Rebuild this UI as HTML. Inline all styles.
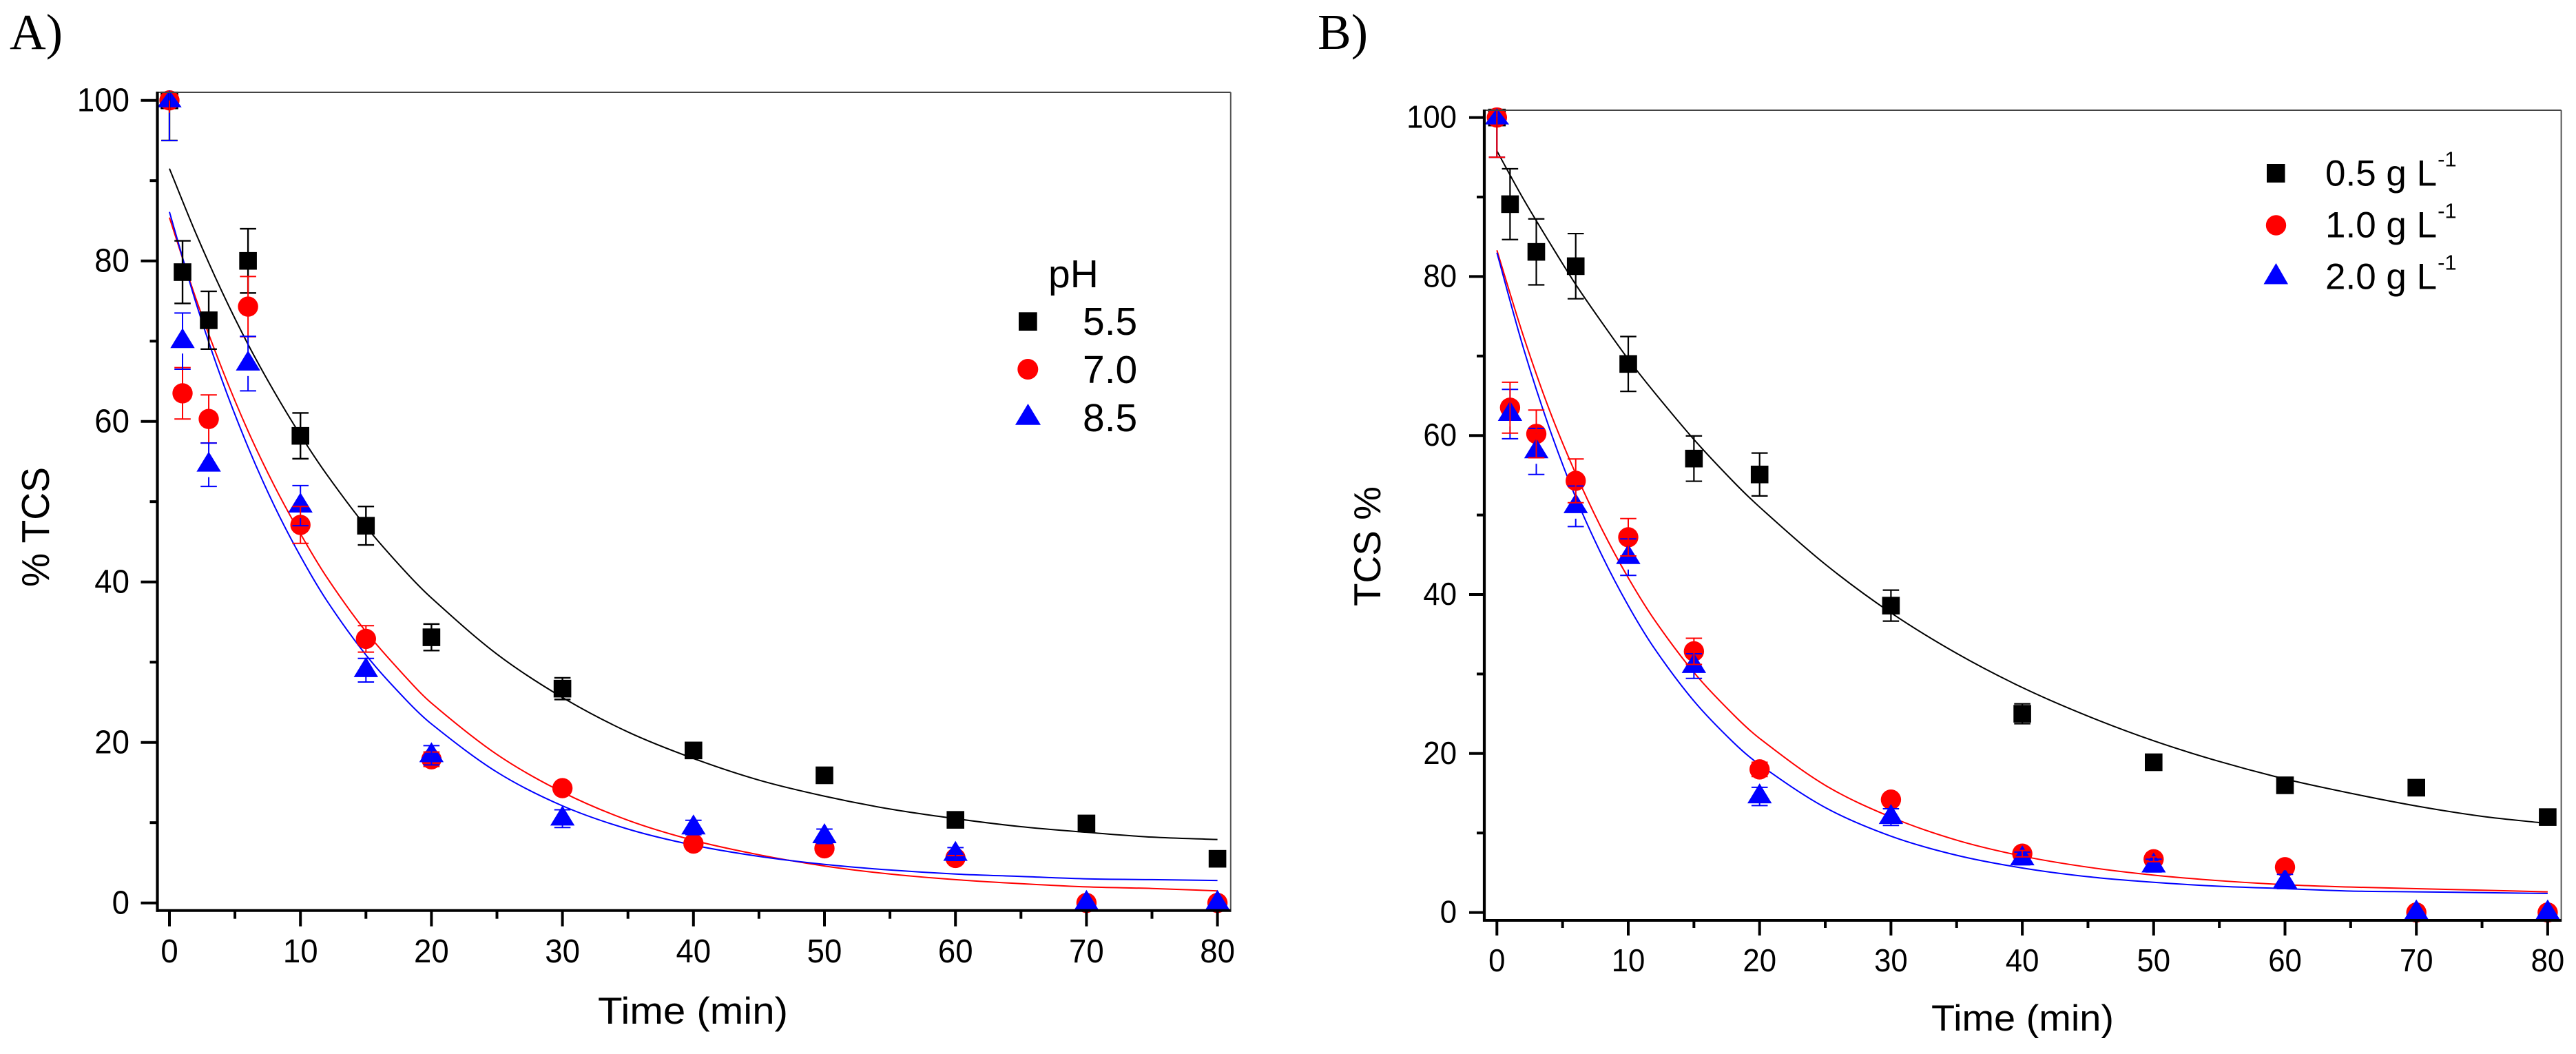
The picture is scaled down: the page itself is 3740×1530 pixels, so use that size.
<!DOCTYPE html>
<html lang="en">
<head>
<meta charset="utf-8">
<title>TCS degradation kinetics</title>
<style>
  html, body { margin: 0; padding: 0; background: #ffffff; }
  body { width: 3740px; height: 1530px; overflow: hidden; }
  svg { display: block; }
  text { font-family: "Liberation Sans", Arial, sans-serif; fill: #000; }
  .serif { font-family: "Liberation Serif", "Times New Roman", serif; }
</style>
</head>
<body>
<svg id="figure" xmlns="http://www.w3.org/2000/svg" width="3740" height="1530" viewBox="0 0 3740 1530">
  <rect x="0" y="0" width="3740" height="1530" fill="#ffffff"/>

  <text class="serif" x="14" y="71" font-size="73">A)</text>
  <text class="serif" x="1913" y="71" font-size="73">B)</text>

  <g id="panel-a"></g>
  <g id="panel-b"></g>

  <text x="868" y="1486" font-size="55" textLength="276" lengthAdjust="spacingAndGlyphs">Time (min)</text>
  <text transform="translate(71,852) rotate(-90)" font-size="57" textLength="174" lengthAdjust="spacingAndGlyphs">% TCS</text>
  <text x="2804" y="1496" font-size="53" textLength="265" lengthAdjust="spacingAndGlyphs">Time (min)</text>
  <text transform="translate(2004,880) rotate(-90)" font-size="55" textLength="174" lengthAdjust="spacingAndGlyphs">TCS %</text>

  <g>
    <text x="1522" y="417" font-size="57">pH</text>
    <rect x="1479" y="453.3" width="26.7" height="26.7" fill="#000"/>
    <text x="1572" y="486" font-size="57">5.5</text>
    <circle cx="1492.3" cy="536" r="15" fill="#ff0000"/>
    <text x="1572" y="556" font-size="57">7.0</text>
    <polygon points="1492.5,586 1474,616.7 1511,616.7" fill="#0000ff"/>
    <text x="1572" y="626" font-size="57">8.5</text>
  </g>

  <g>
    <rect x="3291" y="238" width="26.5" height="27" fill="#000"/>
    <text x="3376" y="269.5" font-size="53">0.5 g L<tspan font-size="31" dy="-28" dx="1">-1</tspan></text>
    <circle cx="3304.5" cy="327" r="14.7" fill="#ff0000"/>
    <text x="3376" y="344.5" font-size="53">1.0 g L<tspan font-size="31" dy="-28" dx="1">-1</tspan></text>
    <polygon points="3304.5,382 3286.5,412.5 3322,412.5" fill="#0000ff"/>
    <text x="3376" y="419.5" font-size="53">2.0 g L<tspan font-size="31" dy="-28" dx="1">-1</tspan></text>
  </g>
</svg>

<script>
// ---- shared categories and tick labels ----
const times = [0, 1, 3, 6, 10, 15, 20, 30, 40, 50, 60, 70, 80];
const fitTimes = [0, 2, 4, 6, 8, 10, 12, 15, 18, 20, 25, 30, 35, 40, 45, 50, 55, 60, 65, 70, 75, 80];
const xMajorTicks = [0, 10, 20, 30, 40, 50, 60, 70, 80];
const xMinorTicks = [5, 15, 25, 35, 45, 55, 65, 75];
const yMajorTicks = [0, 20, 40, 60, 80, 100];
const yMinorTicks = [10, 30, 50, 70, 90];

// ---- panel A: pH series ----
const aPh55 = [100, 78.6, 72.6, 80, 58.2, 47, 33.1, 26.7, 19, 15.9, 10.35, 9.9, 5.5];
const aPh55Err = [5, 3.9, 3.6, 4, 2.85, 2.4, 1.65, 1.35, 0.6, 0.4, 0.4, 0.3, 0.3];
const aPh70 = [100, 63.5, 60.3, 74.3, 47.1, 32.9, 17.9, 14.3, 7.4, 6.8, 5.6, 0, 0];
const aPh70Err = [5, 3.2, 3, 3.75, 2.3, 1.65, 0.9, 0.5, 0.4, 0.3, 0.3, 0, 0];
const aPh85 = [100, 70, 54.6, 67.2, 49.5, 29, 18.4, 10.5, 9.4, 8.3, 6.1, 0, 0];
const aPh85Err = [5, 3.5, 2.7, 3.4, 2.5, 1.47, 1.2, 1.1, 0.9, 0.9, 0.8, 0, 0];
const aFit55 = [91.5, 83.5, 76.2, 69.6, 63.7, 58.3, 53.4, 46.9, 41.3, 38.0, 31.0, 25.6, 21.3, 18.0, 15.3, 13.3, 11.7, 10.5, 9.5, 8.8, 8.2, 7.9];
const aFit70 = [85.4, 75.4, 66.6, 58.8, 52.0, 46.0, 40.6, 33.8, 28.2, 24.9, 18.5, 13.8, 10.3, 7.8, 6.0, 4.6, 3.6, 2.9, 2.4, 2.0, 1.8, 1.5];
const aFit85 = [86.1, 74.9, 65.2, 56.8, 49.5, 43.2, 37.7, 30.9, 25.4, 22.3, 16.3, 12.1, 9.2, 7.2, 5.8, 4.8, 4.1, 3.6, 3.3, 3.0, 2.9, 2.8];

// ---- panel B: catalyst dose series ----
const bDose05 = [100, 89.1, 83.1, 81.3, 69, 57.1, 55.1, 38.6, 25, 18.9, 16, 15.7, 12];
const bDose05Err = [5, 4.45, 4.15, 4.1, 3.45, 2.85, 2.7, 1.95, 1.25, 0.4, 0.4, 0.3, 0.3];
const bDose10 = [100, 63.5, 60.2, 54.3, 47.2, 32.85, 18, 14.2, 7.4, 6.7, 5.7, 0, 0];
const bDose10Err = [5, 3.2, 3, 2.75, 2.35, 1.65, 0.9, 0.5, 0.4, 0.3, 0.3, 0, 0];
const bDose20 = [100, 62.7, 58, 51.1, 44.7, 31, 14.6, 12, 6.8, 5.9, 3.9, 0, 0];
const bDose20Err = [5, 3.1, 2.9, 2.55, 2.3, 1.55, 1.15, 1.05, 0.8, 0.8, 0.9, 0, 0];
const bFit05 = [95.8, 89.8, 84.3, 79.0, 74.2, 69.6, 65.4, 59.5, 54.2, 51.0, 43.8, 37.7, 32.6, 28.3, 24.7, 21.6, 19.0, 16.8, 15.0, 13.4, 12.1, 11.2];
const bFit10 = [83.3, 72.6, 63.2, 55.2, 48.2, 42.1, 36.8, 30.2, 24.9, 21.9, 16.0, 12.0, 9.1, 7.1, 5.7, 4.7, 4.0, 3.5, 3.2, 3.0, 2.8, 2.6];
const bFit20 = [83.0, 71.1, 60.9, 52.2, 44.9, 38.6, 33.2, 26.6, 21.4, 18.6, 13.2, 9.6, 7.2, 5.6, 4.5, 3.8, 3.3, 3.0, 2.7, 2.6, 2.5, 2.4];

const SVGNS = 'http://www.w3.org/2000/svg';

function make(parent, tag, attrs) {
  const el = document.createElementNS(SVGNS, tag);
  for (const k in attrs) el.setAttribute(k, attrs[k]);
  parent.appendChild(el);
  return el;
}

// Cubic Hermite spline through the read-off samples, with slopes that respect uneven spacing.
function smoothPath(px, py) {
  const n = px.length;
  const slope = px.map(function (_, i) {
    const a = Math.max(i - 1, 0), b = Math.min(i + 1, n - 1);
    return (py[b] - py[a]) / (px[b] - px[a]);
  });
  let d = 'M' + px[0].toFixed(2) + ' ' + py[0].toFixed(2);
  for (let i = 0; i < n - 1; i++) {
    const h = (px[i + 1] - px[i]) / 3;
    d += 'C' + (px[i] + h).toFixed(2) + ' ' + (py[i] + slope[i] * h).toFixed(2) + ' ' +
         (px[i + 1] - h).toFixed(2) + ' ' + (py[i + 1] - slope[i + 1] * h).toFixed(2) + ' ' +
         px[i + 1].toFixed(2) + ' ' + py[i + 1].toFixed(2);
  }
  return d;
}

function drawPanel(root, cfg) {
  const xS = function (t) { return cfg.x0 + cfg.xPerMin * t; };
  const yS = function (v) { return cfg.y0 - cfg.yPerUnit * v; };

  // fitted curves
  cfg.series.forEach(function (s) {
    const curve = make(root, 'path', {
      d: smoothPath(fitTimes.map(xS), s.fit.map(yS)),
      fill: 'none', stroke: s.color, 'stroke-width': 2
    });
    
    
  });

  // symbols
  cfg.series.forEach(function (s) {
    times.forEach(function (t, i) {
      const x = xS(t), y = yS(s.values[i]);
      let mark;
      if (s.shape === 'square') {
        mark = make(root, 'rect', { x: x - 12.8, y: y - 12.8, width: 25.6, height: 25.6, fill: s.color });
      } else if (s.shape === 'circle') {
        mark = make(root, 'circle', { cx: x, cy: y, r: 14.7, fill: s.color });
      } else {
        const apex = Math.max(y - 19, cfg.top - 3);
        mark = make(root, 'polygon', {
          points: x + ',' + apex + ' ' + (x - 17.7) + ',' + (y + 10) + ' ' + (x + 17.7) + ',' + (y + 10),
          fill: s.color
        });
      }
      
      
    });
  });

  // error bars (above all symbols)
  cfg.barOrder.forEach(function (idx) {
    const s = cfg.series[idx];
    times.forEach(function (t, i) {
      const e = s.errors[i];
      if (e <= 0) return;
      const x = xS(t);
      const yc = yS(s.values[i]);
      const top = Math.max(yS(s.values[i] + e), cfg.top);
      const bot = yS(s.values[i] - e);
      const g = make(root, 'g', { stroke: s.color, 'stroke-width': s.barWidth, fill: 'none' });
      
      
      const gapBelow = (s.shape === 'triangle' && bot - yc > 18) ? yc + 18 : yc;
      make(g, 'line', { x1: x, x2: x, y1: top, y2: yc });
      make(g, 'line', { x1: x, x2: x, y1: gapBelow, y2: bot });
      if (top > cfg.top) make(g, 'line', { x1: x - 11.8, x2: x + 11.8, y1: top, y2: top });
      make(g, 'line', { x1: x - 11.8, x2: x + 11.8, y1: bot, y2: bot });
    });
  });

  // frame: thin top/right, thick left/bottom
  const frameT = make(root, 'line', { x1: cfg.left, x2: cfg.right, y1: cfg.top, y2: cfg.top, stroke: '#444', 'stroke-width': 2 });
  
  
  const frameR = make(root, 'line', { x1: cfg.right, x2: cfg.right, y1: cfg.top, y2: cfg.bottom + 2, stroke: '#555', 'stroke-width': 2 });
  
  
  const axisY = make(root, 'line', { x1: cfg.left, x2: cfg.left, y1: cfg.top - 1, y2: cfg.bottom + 2, stroke: '#000', 'stroke-width': 4.2 });
  
  
  const axisX = make(root, 'line', { x1: cfg.left - 2, x2: cfg.right, y1: cfg.bottom, y2: cfg.bottom, stroke: '#000', 'stroke-width': 4 });
  
  

  // y ticks
  yMajorTicks.forEach(function (v) {
    const tick = make(root, 'line', { x1: cfg.left - cfg.yMajorLen, x2: cfg.left, y1: yS(v), y2: yS(v), stroke: '#000', 'stroke-width': 4 });
    
    
    const label = make(root, 'text', {
      transform: 'translate(' + cfg.yLabelX + ',' + (yS(v) + cfg.yLabelDy) + ') scale(0.95,1)',
      'text-anchor': 'end', 'font-size': cfg.tickFont
    });
    label.textContent = String(v);
    
    
  });
  yMinorTicks.forEach(function (v) {
    const tick = make(root, 'line', { x1: cfg.left - cfg.yMinorLen, x2: cfg.left, y1: yS(v), y2: yS(v), stroke: '#000', 'stroke-width': 4 });
    
    
  });

  // x ticks
  xMajorTicks.forEach(function (t) {
    const tick = make(root, 'line', { x1: xS(t), x2: xS(t), y1: cfg.bottom, y2: cfg.bottom + cfg.xMajorLen, stroke: '#000', 'stroke-width': 4 });
    
    
    const label = make(root, 'text', {
      transform: 'translate(' + xS(t) + ',' + cfg.xLabelY + ') scale(0.95,1)',
      'text-anchor': 'middle', 'font-size': cfg.tickFont
    });
    label.textContent = String(t);
    
    
  });
  xMinorTicks.forEach(function (t) {
    const tick = make(root, 'line', { x1: xS(t), x2: xS(t), y1: cfg.bottom, y2: cfg.bottom + cfg.xMinorLen, stroke: '#000', 'stroke-width': 4 });
    
    
  });
}

drawPanel(document.getElementById('panel-a'), {
  id: 'panel-a',
  x0: 246, xPerMin: 19.02, y0: 1310.7, yPerUnit: 11.65,
  left: 228.5, right: 1786.8, top: 134, bottom: 1321.7,
  yMajorLen: 24, yMinorLen: 11, xMajorLen: 23, xMinorLen: 12,
  yLabelX: 188, yLabelDy: 16, xLabelY: 1397, tickFont: 48,
  barOrder: [0, 1, 2],
  series: [
    { key: 'ph-5-5', color: '#000000', shape: 'square', barWidth: 2.4, values: aPh55, errors: aPh55Err, fit: aFit55 },
    { key: 'ph-7-0', color: '#ff0000', shape: 'circle', barWidth: 2, values: aPh70, errors: aPh70Err, fit: aFit70 },
    { key: 'ph-8-5', color: '#0000ff', shape: 'triangle', barWidth: 2, values: aPh85, errors: aPh85Err, fit: aFit85 }
  ]
});

drawPanel(document.getElementById('panel-b'), {
  id: 'panel-b',
  x0: 2173.3, xPerMin: 19.07, y0: 1324.6, yPerUnit: 11.54,
  left: 2155, right: 3718.6, top: 160, bottom: 1336,
  yMajorLen: 22, yMinorLen: 11, xMajorLen: 22, xMinorLen: 11,
  yLabelX: 2115, yLabelDy: 15, xLabelY: 1410, tickFont: 46,
  barOrder: [0, 2, 1],
  series: [
    { key: 'dose-0-5', color: '#000000', shape: 'square', barWidth: 2.2, values: bDose05, errors: bDose05Err, fit: bFit05 },
    { key: 'dose-1-0', color: '#ff0000', shape: 'circle', barWidth: 2, values: bDose10, errors: bDose10Err, fit: bFit10 },
    { key: 'dose-2-0', color: '#0000ff', shape: 'triangle', barWidth: 2, values: bDose20, errors: bDose20Err, fit: bFit20 }
  ]
});
</script>
</body>
</html>
